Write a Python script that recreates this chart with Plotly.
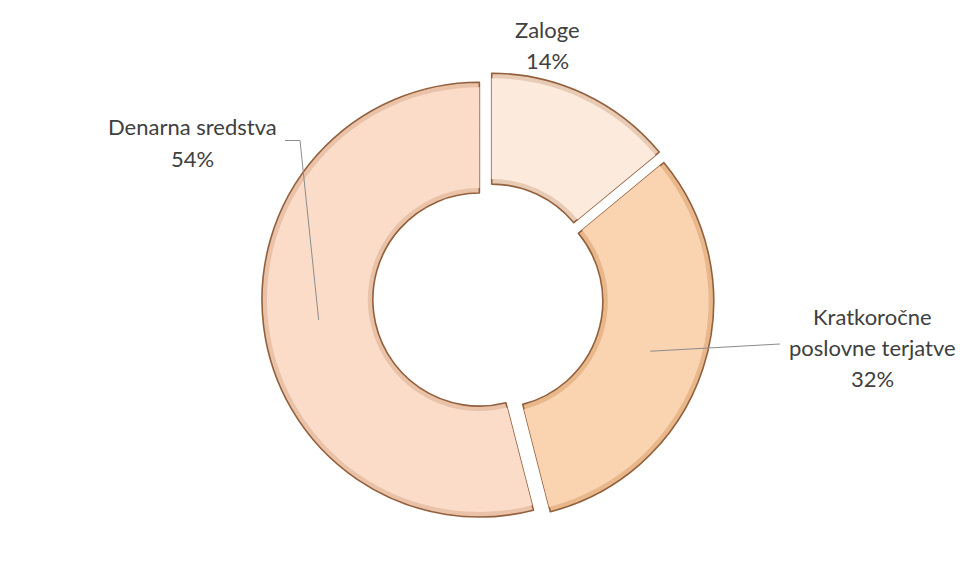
import math
import plotly.graph_objects as go

# ---- data ----
categories = ["Zaloge", "Kratkoročne poslovne terjatve", "Denarna sredstva"]
label_lines = [["Zaloge"], ["Kratkoročne", "poslovne terjatve"], ["Denarna sredstva"]]
values = [14, 32, 54]
edge_colors = ["#E8CBB5", "#E8B78A", "#E9C2A8"]
colors = ["#FCEADC", "#FAD3B0", "#FADCC8"]

W, H = 963, 579
cx, cy = 488, 298.5          # pie centre (px)
R = 217.4                    # outer radius (px)
PULL = 0.04
HOLE = 0.49
D = R * PULL                 # explode distance in px
BEVEL = 5                    # px


def pie_domain(r):
    side = 2 * (r + D)
    return dict(x=[(cx - side / 2) / W, (cx + side / 2) / W],
                y=[(H - cy - side / 2) / H, (H - cy + side / 2) / H])


# outer layer (edge shade)
fig = go.Figure(go.Pie(
    labels=categories, values=values, sort=False, direction="clockwise", rotation=0,
    hole=HOLE, pull=[PULL] * len(values),
    marker=dict(colors=edge_colors, line=dict(color="#93603D", width=1.6)),
    textinfo="none", hoverinfo="label+percent", showlegend=False,
    domain=pie_domain(R),
))
# inner layer (face)
r2 = R - BEVEL
rin2 = R * HOLE + BEVEL
fig.add_trace(go.Pie(
    labels=categories, values=values, sort=False, direction="clockwise", rotation=0,
    hole=rin2 / r2, pull=[D / r2] * len(values),
    marker=dict(colors=colors, line=dict(color="rgba(0,0,0,0)", width=0)),
    textinfo="none", hoverinfo="skip", showlegend=False,
    domain=pie_domain(r2),
))


def px2paper(x, y):
    return x / W, (H - y) / H


total = sum(values)
pcts = [round(v * 100 / total) for v in values]

# label placements (px, centre of text block) and leader-line style
label_pos = [(547, 45), (872, 347), (192, 142.5)]
leader = [None, "straight", "elbow"]

FONT = dict(family="Lato, Carlito, Calibri, sans-serif", size=22, color="#404040")
LINE_H = 31

annotations = []
shapes = []
cum = 0
for i, v in enumerate(values):
    mid = (cum + v / 2) / total * 2 * math.pi
    cum += v
    lines = label_lines[i] + [f"{pcts[i]}%"]
    lx, ly = label_pos[i]
    n = len(lines)
    for k, t in enumerate(lines):
        yy = ly + (k - (n - 1) / 2) * LINE_H
        px, py = px2paper(lx, yy)
        annotations.append(dict(x=px, y=py, xref="paper", yref="paper", text=t,
                                showarrow=False, font=FONT, xanchor="center", yanchor="middle"))
    # anchor point inside the slice
    rr = R * (1 + HOLE) / 2 + D
    ax_ = cx + rr * math.sin(mid)
    ay_ = cy - rr * math.cos(mid)
    if leader[i] == "straight":
        x0, y0 = px2paper(ax_, ay_)
        x1, y1 = px2paper(lx - 92, ly - 3)
        shapes.append(dict(type="line", xref="paper", yref="paper", x0=x0, y0=y0, x1=x1, y1=y1,
                           line=dict(color="#8C8C8C", width=1)))
    elif leader[i] == "elbow":
        p0 = px2paper(ax_, ay_)
        p1 = px2paper(lx + 108, ly - 2)
        p2 = px2paper(lx + 93, ly - 2)
        path = f"M {p0[0]} {p0[1]} L {p1[0]} {p1[1]} L {p2[0]} {p2[1]}"
        shapes.append(dict(type="path", xref="paper", yref="paper", path=path,
                           line=dict(color="#8C8C8C", width=1)))

fig.update_layout(
    width=W, height=H,
    margin=dict(l=0, r=0, t=0, b=0),
    paper_bgcolor="white",
    plot_bgcolor="white",
    annotations=annotations,
    shapes=shapes,
)

fig.write_html("out.html", config={"displayModeBar": False},
               post_script="document.body.style.margin='0';")
